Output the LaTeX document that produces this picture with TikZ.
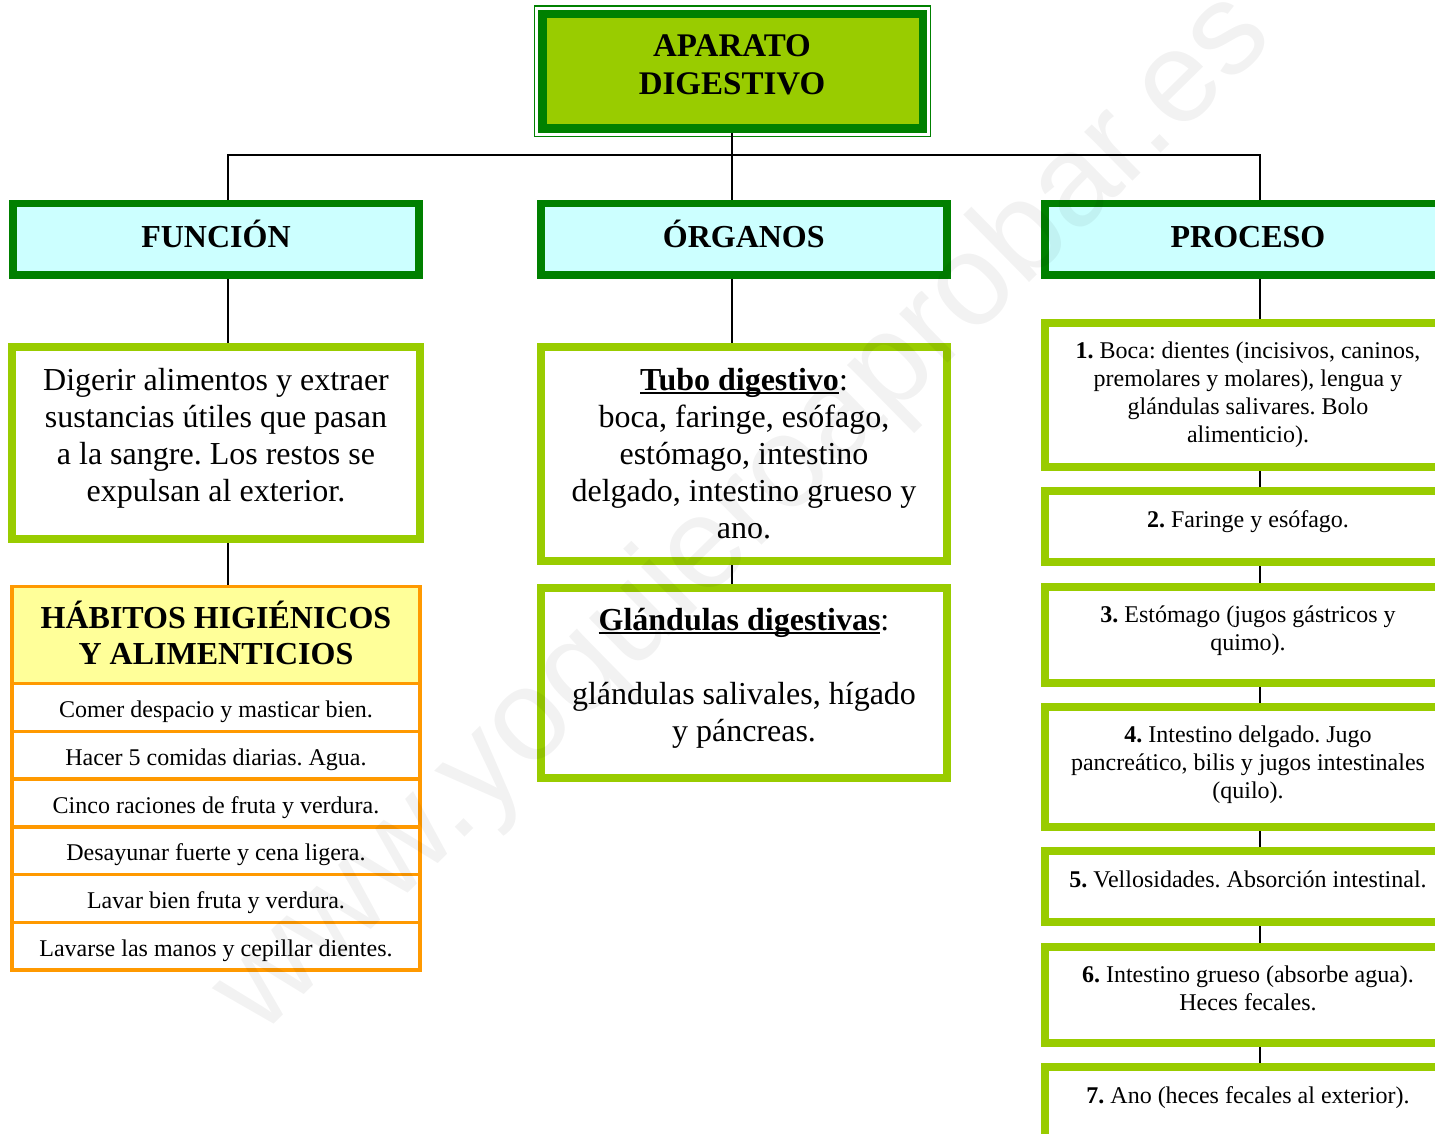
\documentclass[tikz,border=0pt]{standalone}
\usepackage{fontspec}
\setmainfont{Liberation Serif}
\newfontfamily\wmfont{Liberation Sans}
\definecolor{dkgreen}{HTML}{008000}
\definecolor{ygreen}{HTML}{99CC00}
\definecolor{cyanfill}{HTML}{CCFFFF}
\definecolor{orng}{HTML}{FF9900}
\definecolor{lyellow}{HTML}{FFFF99}
\newsavebox\ulbox
\newcommand{\myul}[1]{\sbox\ulbox{#1}\rlap{\rule[-3.5pt]{\wd\ulbox}{2pt}}\usebox\ulbox}
\frenchspacing
\begin{document}
\begin{tikzpicture}[x=1pt,y=-1pt,
  conn/.style={draw=black,line width=1.8pt},
  titlebox/.style={rectangle,draw=dkgreen,line width=8.5pt,fill=ygreen,minimum width=380.5pt,minimum height=114.5pt,inner sep=0pt},
  hdrbox/.style={rectangle,draw=dkgreen,line width=7.5pt,fill=cyanfill,minimum width=406pt,minimum height=71.5pt,inner sep=0pt,
     font=\fontsize{32}{37}\selectfont\bfseries,text height=22pt,text depth=5pt},
  gbox/.style={rectangle,draw=ygreen,line width=8pt,fill=white,inner sep=0pt,minimum width=406pt},
  bigtxt/.style={align=center,font=\fontsize{32}{37}\selectfont,inner sep=0pt},
  smalltxt/.style={align=center,font=\fontsize{24}{28}\selectfont,inner sep=0pt},
  hrow/.style={rectangle,draw=orng,line width=3.5pt,fill=white,minimum width=408pt,minimum height=47.75pt,inner sep=0pt,
     font=\fontsize{24}{28}\selectfont,text height=22pt,text depth=1.8pt},
]
\useasboundingbox (0,0) rectangle (1435,1134);
\clip (0,0) rectangle (1435,1134);

% title
\node[titlebox] (title) at (732.5,71.5) {};
\draw[dkgreen,line width=1.3pt] ([shift={(-3.5,-4)}]title.north west) rectangle ([shift={(3.5,3.5)}]title.south east);
\node[align=center,inner sep=0pt,font=\fontsize{33}{38}\selectfont\bfseries] (titletxt) at (732,65) {APARATO\\DIGESTIVO};

% headers
\node[hdrbox] (func) at (216,239.25) {FUNCIÓN};
\node[hdrbox] (org) at (743.75,239.25) {ÓRGANOS};
\node[hdrbox] (proc) at (1248,239.25) {PROCESO};

% connectors top
\coordinate (hl) at (228,155);
\coordinate (hm) at (732,155);
\coordinate (hr) at (1260,155);
\draw[conn] (hl |- func.north) -- (hl) -- (hr) -- (hr |- proc.north);
\draw[conn] (hm |- title.south) -- (hm |- org.north);

% function column
\node[gbox,minimum width=408pt,minimum height=192pt] (fbox) at (216,443) {};
\node[bigtxt] (ftxt) at (216,438) {Digerir alimentos y extraer\\sustancias útiles que pasan\\a la sangre. Los restos se\\expulsan al exterior.};
\draw[conn] (hl |- func.south) -- (hl |- fbox.north);

% habits table
\node[rectangle,draw=orng,line width=3.5pt,fill=lyellow,minimum width=408pt,minimum height=97pt,inner sep=0pt] (hab) at (216,635) {};
\node[align=center,inner sep=0pt,font=\fontsize{32}{36}\selectfont\bfseries] (habtxt) at (216,633) {HÁBITOS HIGIÉNICOS\\Y ALIMENTICIOS};
\node[hrow] (r1) at (216,707.4) {Comer despacio y masticar bien.};
\node[hrow] (r2) at (216,755.15) {Hacer 5 comidas diarias. Agua.};
\node[hrow] (r3) at (216,802.9) {Cinco raciones de fruta y verdura.};
\node[hrow] (r4) at (216,850.65) {Desayunar fuerte y cena ligera.};
\node[hrow] (r5) at (216,898.4) {Lavar bien fruta y verdura.};
\node[hrow] (r6) at (216,946.15) {Lavarse las manos y cepillar dientes.};
\draw[conn] (hl |- fbox.south) -- (hl |- hab.north);

% organs column
\node[gbox,minimum height=214pt] (tubo) at (744,454) {};
\node[bigtxt] (tubotxt) at (744,453.5) {\myul{\bfseries Tubo digestivo}:\\boca, faringe, esófago,\\estómago, intestino\\delgado, intestino grueso y\\ano.};
\node[gbox,minimum height=190pt] (gland) at (744,683) {};
\node[bigtxt] (glandtxt) at (744,678.5) {\myul{\bfseries Glándulas digestivas}:\\[37pt]glándulas salivales, hígado\\y páncreas.};
\draw[conn] (hm |- org.south) -- (hm |- tubo.north);
\draw[conn] (hm |- tubo.south) -- (hm |- gland.north);

% process column
\node[gbox,minimum height=144.5pt] (p1) at (1248,394.75) {};
\node[gbox,minimum height=71pt] (p2) at (1248,526.5) {};
\node[gbox,minimum height=96pt] (p3) at (1248,635) {};
\node[gbox,minimum height=120pt] (p4) at (1248,767) {};
\node[gbox,minimum height=71pt] (p5) at (1248,886.5) {};
\node[gbox,minimum height=96pt] (p6) at (1248,995) {};
\node[gbox,minimum height=120pt] (p7) at (1248,1127) {};
\node[smalltxt] (t1) at (1248,395) {\textbf{1.} Boca: dientes (incisivos, caninos,\\premolares y molares), lengua y\\glándulas salivares. Bolo\\alimenticio).};
\node[smalltxt] (t2) at (1248,522) {\textbf{2.} Faringe y esófago.};
\node[smalltxt] (t3) at (1248,630.5) {\textbf{3.} Estómago (jugos gástricos y\\quimo).};
\node[smalltxt] (t4) at (1248,764.5) {\textbf{4.} Intestino delgado. Jugo\\pancreático, bilis y jugos intestinales\\(quilo).};
\node[smalltxt] (t5) at (1248,879.5) {\textbf{5.} Vellosidades. Absorción intestinal.};
\node[smalltxt] (t6) at (1248,988) {\textbf{6.} Intestino grueso (absorbe agua).\\Heces fecales.};
\node[smalltxt] (t7) at (1248,1098) {\textbf{7.} Ano (heces fecales al exterior).};
\draw[conn] (hr |- proc.south) -- (hr |- p1.north);
\draw[conn] (hr |- p1.south) -- (hr |- p2.north);
\draw[conn] (hr |- p2.south) -- (hr |- p3.north);
\draw[conn] (hr |- p3.south) -- (hr |- p4.north);
\draw[conn] (hr |- p4.south) -- (hr |- p5.north);
\draw[conn] (hr |- p5.south) -- (hr |- p6.north);
\draw[conn] (hr |- p6.south) -- (hr |- p7.north);

% watermark
\node[font=\wmfont\fontsize{130}{130}\selectfont,text=black,opacity=0.05,rotate=44.5,inner sep=0pt] (wm) at (745,515) {www.yoquieroaprobar.es};
\end{tikzpicture}
\end{document}
